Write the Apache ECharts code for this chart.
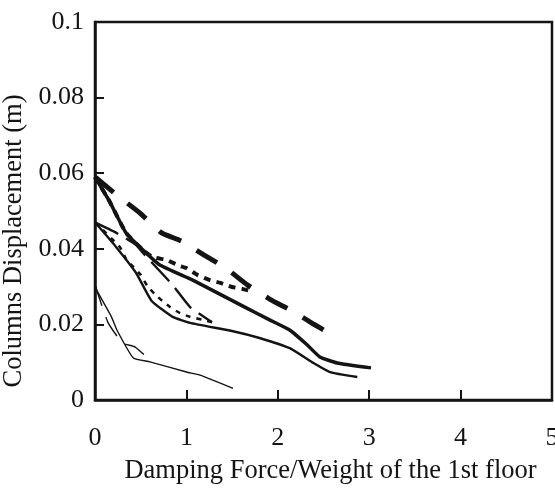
<!DOCTYPE html>
<html>
<head>
<meta charset="utf-8">
<script src="https://cdn.jsdelivr.net/npm/echarts@6/dist/echarts.min.js"></script>
<style>
  html, body { margin: 0; padding: 0; background: #fff; }
  #chart { width: 555px; height: 488px; }
</style>
</head>
<body>
<div id="chart"></div>
<script>
// Axis ticks
const xTicks = [0, 1, 2, 3, 4, 5];
const yTicks = [0, 0.02, 0.04, 0.06, 0.08, 0.1];

// Curves starting near 0.059 m
const upperSolid = [[0, 0.059], [0.16, 0.0525], [0.34, 0.0442], [0.525, 0.0397], [0.71, 0.0357], [1.07, 0.0317], [1.66, 0.0243], [1.91, 0.0212], [2.13, 0.0185], [2.32, 0.0146], [2.46, 0.0114], [2.65, 0.0098], [3.02, 0.0085]];
const upperLongDash = [[0, 0.059], [0.25, 0.054], [0.49, 0.0495], [0.73, 0.0442], [0.95, 0.042], [1.19, 0.0384], [1.43, 0.0349], [1.67, 0.0304], [1.91, 0.0267], [2.17, 0.0234], [2.39, 0.0201], [2.54, 0.018]];
const upperDotted = [[0, 0.059], [0.16, 0.0525], [0.34, 0.0442], [0.525, 0.0397], [0.63, 0.0378], [0.79, 0.037], [0.9, 0.0357], [1.0, 0.0349], [1.12, 0.0331], [1.26, 0.0317], [1.37, 0.031], [1.5, 0.0299], [1.61, 0.0294], [1.74, 0.0286]];

// Curves starting near 0.047 m
const middleSolid = [[0, 0.047], [0.23, 0.0405], [0.45, 0.0336], [0.62, 0.0262], [0.85, 0.022], [1.04, 0.0204], [1.51, 0.0182], [1.8, 0.0164], [2.13, 0.0137], [2.39, 0.0098], [2.57, 0.0074], [2.87, 0.0061]];
const middleDotted = [[0, 0.047], [0.27, 0.0405], [0.34, 0.0373], [0.42, 0.0352], [0.5, 0.0331], [0.58, 0.0299], [0.69, 0.0272], [0.82, 0.0246], [0.93, 0.023], [1.04, 0.022], [1.18, 0.0212], [1.28, 0.0206]];
const middleLongDash = [[0, 0.047], [0.22, 0.0444], [0.45, 0.041], [0.525, 0.0389], [0.85, 0.0304], [1.04, 0.0246], [1.28, 0.0206]];

// Curves starting near 0.030 m
const lowerSolid = [[0, 0.0305], [0.02, 0.029], [0.18, 0.022], [0.24, 0.0185], [0.42, 0.0111], [0.6, 0.0101], [1.0, 0.0074], [1.15, 0.0066], [1.51, 0.0031]];
const lowerDash = [[0, 0.0305], [0.14, 0.0206], [0.3, 0.0151], [0.44, 0.014], [0.62, 0.0101]];

const ink = '#141414';
const serif = '"Liberation Serif", "Times New Roman", serif';

function curve(name, data, width, type) {
  return {
    name: name,
    type: 'line',
    data: data,
    showSymbol: false,
    smooth: 0.15,
    lineStyle: { color: ink, width: width, type: type, cap: 'butt', join: 'round' },
    z: 3
  };
}

const chart = echarts.init(document.getElementById('chart'), null, { renderer: 'canvas' });
chart.setOption({
  backgroundColor: '#ffffff',
  animation: false,
  grid: {
    left: 95, right: 3, top: 22, bottom: 88,
    outerBoundsMode: 'none',
    containLabel: false,
    show: true, borderColor: ink, borderWidth: 2.5, backgroundColor: 'transparent'
  },
  xAxis: {
    type: 'value',
    min: xTicks[0], max: xTicks[xTicks.length - 1], interval: 1,
    name: 'Damping Force/Weight of the 1st floor',
    nameLocation: 'middle',
    nameGap: 58,
    nameTextStyle: { fontFamily: serif, fontSize: 26.5, color: ink, padding: [0, 0, 0, 14] },
    axisLine: { show: true, lineStyle: { color: ink, width: 2.5 } },
    axisTick: { show: true, inside: true, length: 10, lineStyle: { color: ink, width: 2 } },
    axisLabel: { fontFamily: serif, fontSize: 26, color: ink, margin: 25 },
    splitLine: { show: false }
  },
  yAxis: {
    type: 'value',
    min: yTicks[0], max: yTicks[yTicks.length - 1], interval: 0.02,
    name: 'Columns Displacement (m)',
    nameLocation: 'middle',
    nameGap: 63,
    nameTextStyle: { fontFamily: serif, fontSize: 26.5, color: ink, padding: [0, 60, 0, 0] },
    axisLine: { show: true, lineStyle: { color: ink, width: 2.5 } },
    axisTick: { show: true, inside: true, length: 9, lineStyle: { color: ink, width: 2 } },
    axisLabel: {
      fontFamily: serif, fontSize: 26, color: ink, margin: 11,
      formatter: function (v) { return String(+v.toFixed(2)); }
    },
    splitLine: { show: false }
  },
  series: [
    curve('upperSolid', upperSolid, 3.5, 'solid'),
    curve('upperLongDash', upperLongDash, 5, [24, 18]),
    curve('upperDotted', upperDotted, 4, [7, 6]),
    curve('middleSolid', middleSolid, 2.4, 'solid'),
    curve('middleDotted', middleDotted, 2.6, [5, 6]),
    curve('middleLongDash', middleLongDash, 2.4, [26, 9]),
    curve('lowerSolid', lowerSolid, 1.4, 'solid'),
    curve('lowerDash', lowerDash, 1.4, [22, 12])
  ]
});
</script>
</body>
</html>
